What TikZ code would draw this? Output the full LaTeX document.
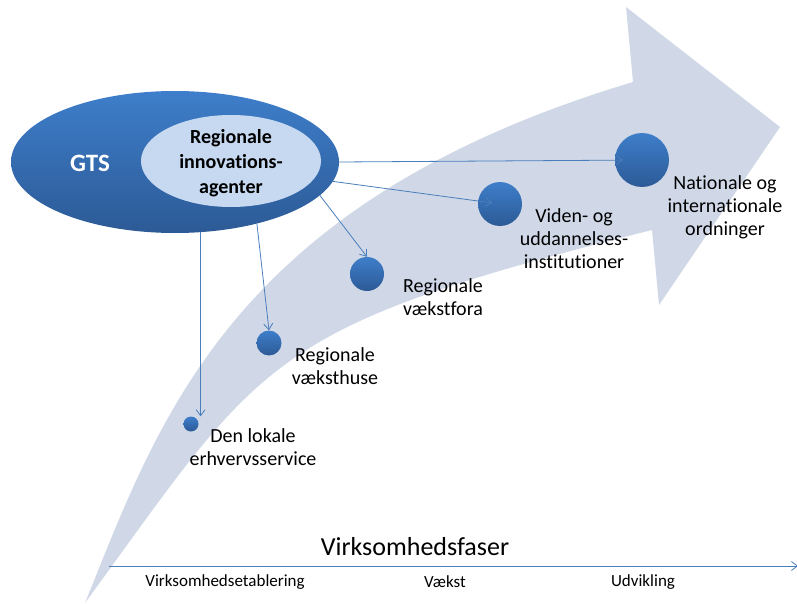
\documentclass[tikz,border=0pt]{standalone}
\usepackage{fontspec}
\setmainfont{Carlito}[Ligatures=NoCommon]
\usetikzlibrary{shapes.geometric,arrows.meta}

\definecolor{bandgrey}{RGB}{208,216,232}
\definecolor{gtstop}{RGB}{62,126,202}
\definecolor{gtsbottom}{RGB}{44,90,150}
\definecolor{agentfill}{RGB}{198,217,241}
\definecolor{linkblue}{RGB}{74,126,187}

\begin{document}
\begin{tikzpicture}[x=1pt, y=-1pt,
        link/.style={draw=linkblue, line width=0.8pt, -{Straight Barb[length=6pt,width=9pt]}},
        stage/.style={circle, top color=gtstop, bottom color=gtsbottom, inner sep=0pt},
        stagelabel/.style={align=center, font=\fontsize{20}{23}\selectfont},
        phase/.style={font=\fontsize{17}{20}\selectfont}]
        \useasboundingbox (0,0) rectangle (797,604);
        \clip (0,0) rectangle (797,604);

        % Curved arrow in the background
        \fill[bandgrey] (85,603) .. controls (158.5,422) and (229,203) .. (633,82)
            -- (626,7) -- (780,127) -- (659,305) -- (652,230)
            .. controls (263,328) and (264.5,357) .. (85,603) -- cycle;

        % GTS with the regional agents inside
        \node[ellipse, minimum width=328pt, minimum height=142pt, inner sep=0pt,
            top color=gtstop, bottom color=gtsbottom] (gts) at (175,162) {};
        \node[ellipse, minimum width=180pt, minimum height=92pt, inner sep=0pt,
            fill=agentfill] (agents) at (231,161) {};
        \node[text=white, font=\bfseries\fontsize{25}{30}\selectfont] (gtstxt) at (90,163) {GTS};
        \node[align=center, font=\bfseries\fontsize{20}{25}\selectfont] (agentstxt) at (231,163)
            {Regionale\\innovations-\\agenter};

        % Stages
        \node[stage, minimum size=54pt] (natl) at (642,160) {};
        \node[stage, minimum size=44pt] (viden) at (500,204) {};
        \node[stage, minimum size=34pt] (fora) at (367,274) {};
        \node[stage, minimum size=25pt] (huse) at (269,343) {};
        \node[stage, minimum size=15pt] (lokal) at (191,424) {};

        \node[stagelabel] (natllbl) at (725,207) {Nationale og\\internationale\\ordninger};
        \node[stagelabel] (videnlbl) at (574,239) {Viden- og\\uddannelses-\\institutioner};
        \node[stagelabel] (foralbl) at (443,297) {Regionale\\vækstfora};
        \node[stagelabel] (huselbl) at (335,366) {Regionale\\væksthuse};
        \node[stagelabel] (lokallbl) at (253,447) {Den lokale\\erhvervsservice};

        % Links from the agents
        \draw[link, shorten >=19pt] (gts.east) -- (natl.center);
        \draw[link, shorten >=8pt] (gts.-7.6) -- (viden.center);
        \draw[link] (gts.-13.7) -- (fora.north);
        \draw[link] (gts.-37) -- (huse.north);
        \draw[link] (gts.-70) -- (gts.-70 |- lokal.north);

        % Phase axis
        \coordinate (axstart) at (109,566);
        \coordinate (axend) at (798,566);
        \draw[link] (axstart) -- (axend);
        \node[font=\fontsize{26}{30}\selectfont] (faser) at (415,547) {Virksomhedsfaser};
        \node[phase] (etab) at (225,582) {Virksomhedsetablering};
        \node[phase] (vaekst) at (445,582) {Vækst};
        \node[phase] (udv) at (643,582) {Udvikling};
    \end{tikzpicture}
\end{document}
